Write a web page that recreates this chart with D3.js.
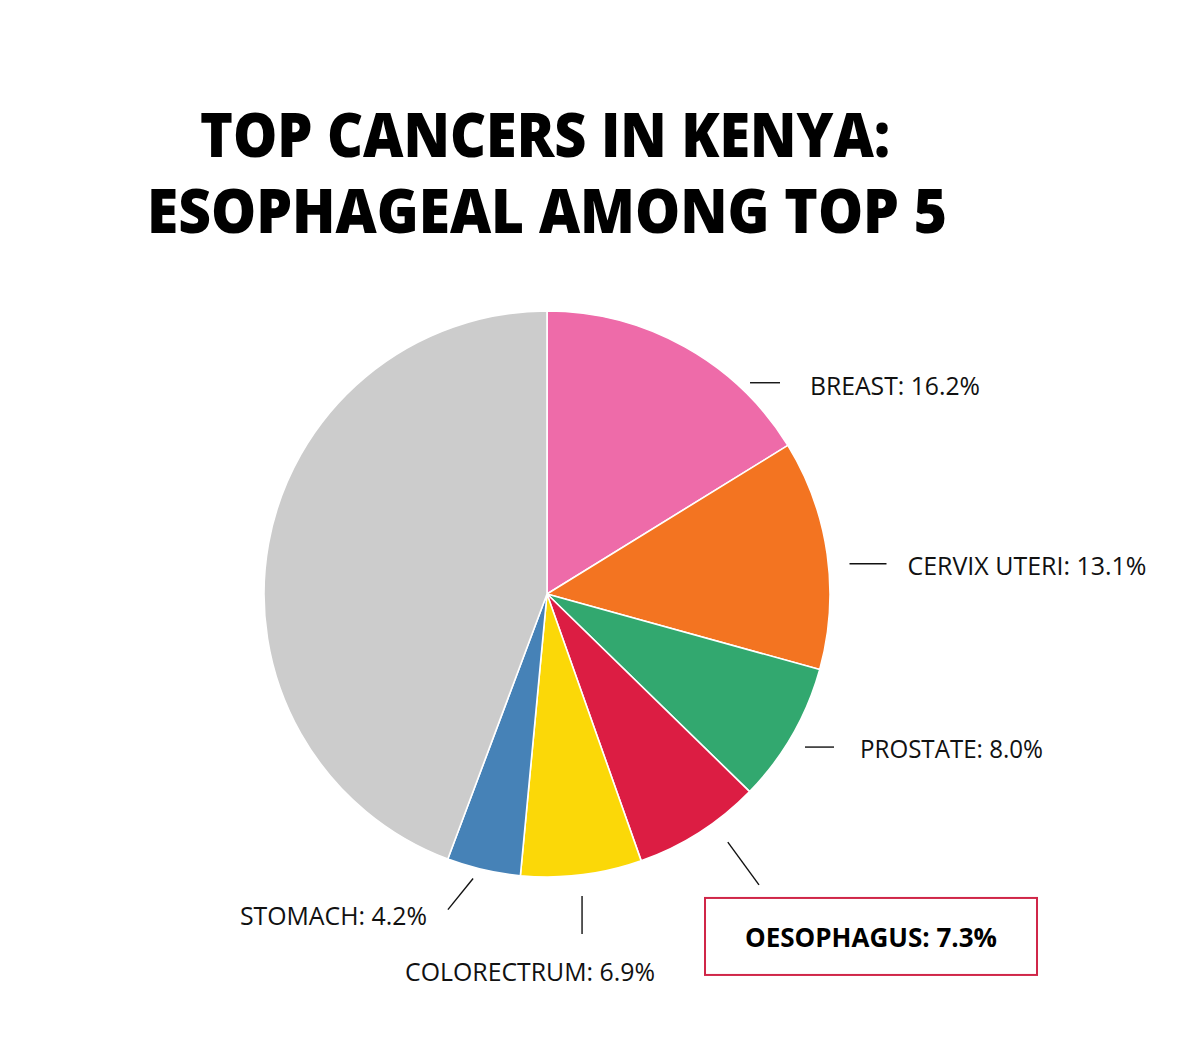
<!DOCTYPE html>
<html>
<head>
<meta charset="utf-8">
<script src="https://cdn.jsdelivr.net/npm/d3@7"></script>
<style>
  body { margin: 0; background: #fff; }
  svg { display: block; }
</style>
</head>
<body>
<div id="chart"></div>
<script>
const width = 1200;
const height = 1052;

// Data (share of new cases, %)
const categories = ["BREAST", "CERVIX UTERI", "PROSTATE", "OESOPHAGUS", "COLORECTRUM", "STOMACH", "OTHER"];
const shares = [16.2, 13.1, 8.0, 7.3, 6.9, 4.2, 44.3];
const colours = ["#ee6ba9", "#f37421", "#32a86f", "#dc1d43", "#fbd808", "#4682b7", "#cccccc"];
const titleLines = ["TOP CANCERS IN KENYA:", "ESOPHAGEAL AMONG TOP 5"];

// Label placement (layout only, not data)
// kind: h = horizontal leader, v = vertical, r = radial, d = fixed direction (deg from straight down, clockwise toward left)
const labelLayout = {
  "BREAST":       { kind: "h", shift: 14.7, gap: 10, len: 30, dx: 30,   dy: 12, anchor: "start", tl: 170 },
  "CERVIX UTERI": { kind: "h", shift: 2.4,  gap: 21, len: 37, dx: 21,   dy: 11, anchor: "start", tl: 239 },
  "PROSTATE":     { kind: "h", shift: 0.8,  gap: 17, len: 29, dx: 26,   dy: 11, anchor: "start", tl: 183 },
  "OESOPHAGUS":   { kind: "r", shift: -3.5, gap: 24, len: 53, box: true, tl: 252 },
  "COLORECTRUM":  { kind: "v", shift: 0.4,  gap: 21, len: 38, dx: -177, dy: 47, anchor: "start", tl: 250 },
  "STOMACH":      { kind: "d", shift: 1.6,  gap: 11, len: 40, dir: 39, dx: -21, dy: 15, anchor: "end", tl: 187 }
};

const cx = 547, cy = 594, radius = 283;
const font = "'Open Sans', 'Noto Sans', sans-serif";

const svg = d3.select("#chart").append("svg")
    .attr("width", width)
    .attr("height", height)
    .attr("viewBox", [0, 0, width, height]);

// Title
svg.append("g").selectAll("text")
    .data(titleLines)
    .enter().append("text")
    .attr("x", (d, i) => i === 0 ? 545 : 547)
    .attr("y", (d, i) => i === 0 ? 157 : 233)
    .attr("text-anchor", "middle")
    .attr("textLength", (d, i) => i === 0 ? 690 : 800)
    .attr("lengthAdjust", "spacingAndGlyphs")
    .style("font-family", font)
    .style("font-weight", 800)
    .style("font-size", "62px")
    .style("fill", "#000")
    .text(d => d);

const data = categories.map((c, i) => ({ name: c, value: shares[i], colour: colours[i] }));

const pie = d3.pie()
    .value(d => d.value)
    .sort(null);

const arc = d3.arc()
    .innerRadius(0)
    .outerRadius(radius);

const arcs = pie(data);

const g = svg.append("g").attr("transform", `translate(${cx},${cy})`);

g.selectAll("path")
    .data(arcs)
    .enter().append("path")
    .attr("d", arc)
    .attr("fill", d => d.data.colour)
    .attr("stroke", "#fff")
    .attr("stroke-width", 1.6)
    .attr("stroke-linejoin", "round");

// Leader lines and labels
const labelled = arcs.filter(d => labelLayout[d.data.name]);

labelled.forEach(d => {
    const L = labelLayout[d.data.name];
    const mid = (d.startAngle + d.endAngle) / 2 + L.shift * Math.PI / 180;
    const p0 = d3.pointRadial(mid, radius + L.gap);
    let p1;
    if (L.kind === "h") p1 = [p0[0] + L.len, p0[1]];
    else if (L.kind === "v") p1 = [p0[0], p0[1] + L.len];
    else if (L.kind === "d") {
        const a = L.dir * Math.PI / 180;
        p1 = [p0[0] - L.len * Math.sin(a), p0[1] + L.len * Math.cos(a)];
    }
    else p1 = d3.pointRadial(mid, radius + L.gap + L.len);

    g.append("line")
        .attr("x1", p0[0]).attr("y1", p0[1])
        .attr("x2", p1[0]).attr("y2", p1[1])
        .attr("stroke", "#111")
        .attr("stroke-width", 1.4);

    const label = `${d.data.name}: ${d.data.value.toFixed(1)}%`;

    if (L.box) {
        const bx = p1[0] - 54, by = p1[1] + 13, bw = 332, bh = 77;
        g.append("rect")
            .attr("x", bx).attr("y", by)
            .attr("width", bw).attr("height", bh)
            .attr("fill", "#fff")
            .attr("stroke", "#d02648")
            .attr("stroke-width", 2);
        g.append("text")
            .attr("x", bx + bw / 2)
            .attr("y", by + bh / 2 + 10.5)
            .attr("text-anchor", "middle")
            .attr("textLength", L.tl)
            .attr("lengthAdjust", "spacingAndGlyphs")
            .style("font-family", font)
            .style("font-weight", 700)
            .style("font-size", "26px")
            .style("fill", "#000")
            .text(label);
    } else {
        g.append("text")
            .attr("x", p1[0] + L.dx)
            .attr("y", p1[1] + L.dy)
            .attr("text-anchor", L.anchor)
            .attr("textLength", L.tl)
            .attr("lengthAdjust", "spacingAndGlyphs")
            .style("font-family", font)
            .style("font-size", "26px")
            .style("fill", "#111")
            .text(label);
    }
});
</script>
</body>
</html>
